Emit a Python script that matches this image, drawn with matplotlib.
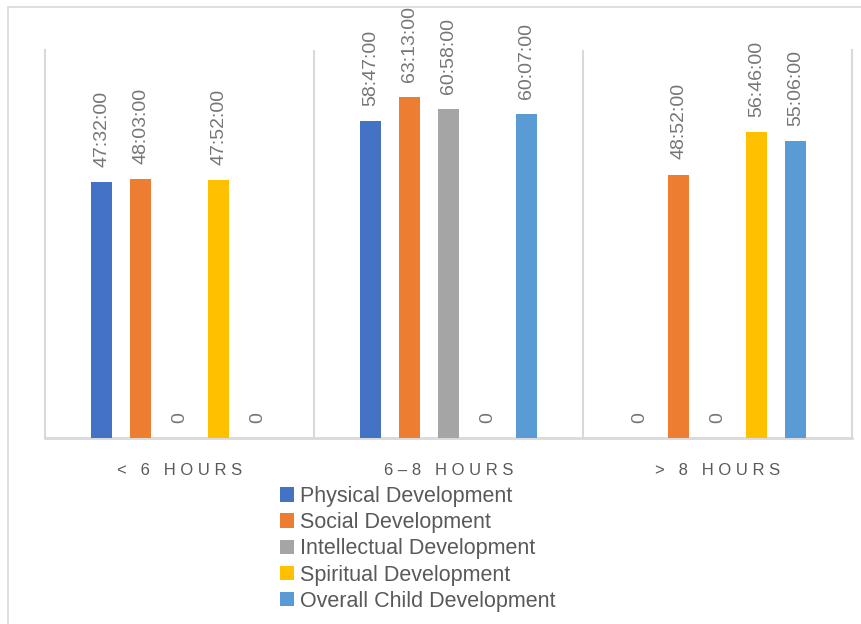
import numpy as np
import matplotlib.pyplot as plt
from matplotlib.patches import Rectangle

# categories and series, values read as [h]:mm:ss
categories = ["< 6 HOURS", "6–8 HOURS", "> 8 HOURS"]
series_names = ["Physical Development", "Social Development", "Intellectual Development",
                "Spiritual Development", "Overall Child Development"]
physical = ["47:32:00", "58:47:00", "0"]
social = ["48:03:00", "63:13:00", "48:52:00"]
intellectual = ["0", "60:58:00", "0"]
spiritual = ["47:52:00", "0", "56:46:00"]
overall = ["0", "60:07:00", "55:06:00"]
colors = ["#4472C4", "#ED7D31", "#A5A5A5", "#FFC000", "#5B9BD5"]


def to_hours(s):
    # turn "hh:mm:ss" text into hours
    parts = [int(p) for p in s.split(":")]
    while len(parts) < 3:
        parts.append(0)
    return parts[0] + parts[1] / 60 + parts[2] / 3600


def main():
    plt.rcParams['font.family'] = ['Liberation Sans', 'DejaVu Sans']
    fig = plt.figure(figsize=(8.61, 6.24), dpi=100)
    ax = fig.add_axes([0.0523, 0.2981, 0.9373, 0.6218])

    # outer chart border, cut off at the right and bottom like the screenshot
    fig.patches.append(Rectangle((8 / 861, -0.2), 1.5, 1.2 - 7 / 624, fill=False,
                                 edgecolor="#d9d9d9", linewidth=1.2,
                                 transform=fig.transFigure, figure=fig))

    x = np.arange(len(categories))
    step = 0.145
    width = 0.077
    all_series = [physical, social, intellectual, spiritual, overall]
    for i, (name, vals, col) in enumerate(zip(series_names, all_series, colors)):
        hours = [to_hours(v) for v in vals]
        pos = x + (i - 2) * step
        ax.bar(pos, hours, width, color=col, label=name, zorder=3)
        for px, h, txt in zip(pos, hours, vals):
            ax.annotate(txt, (px, h), xytext=(0, 11), textcoords="offset points",
                        rotation=90, ha="center", va="bottom",
                        fontsize=14, color="#767676")

    ax.set_xlim(-0.5, 2.5)
    ax.set_ylim(0, 72)
    ax.set_yticks([])
    ax.set_xticks(x)
    ax.set_xticklabels([" ".join(c) for c in categories], fontsize=12, color="#595959")
    ax.tick_params(axis="x", length=0, pad=18)
    ax.set_xticks([0.5, 1.5], minor=True)
    ax.tick_params(axis="x", which="minor", length=0)
    ax.grid(axis="x", which="minor", color="#d9d9d9", linewidth=1.5, zorder=0)
    ax.spines["top"].set_visible(False)
    for s in ["left", "right"]:
        ax.spines[s].set_color("#d9d9d9")
        ax.spines[s].set_linewidth(1.5)
    ax.spines["bottom"].set_color("#d9d9d9")
    ax.spines["bottom"].set_linewidth(2)

    leg = ax.legend(loc="upper left", bbox_to_anchor=(280 / 861, 1 - 486 / 624),
                    bbox_transform=fig.transFigure, frameon=False, fontsize=15.5,
                    borderpad=0, borderaxespad=0, handlelength=0.65, handleheight=0.65,
                    handletextpad=0.28, labelspacing=0.24)
    for t in leg.get_texts():
        t.set_color("#595959")

    fig.savefig("out.png", dpi=100)


main()
